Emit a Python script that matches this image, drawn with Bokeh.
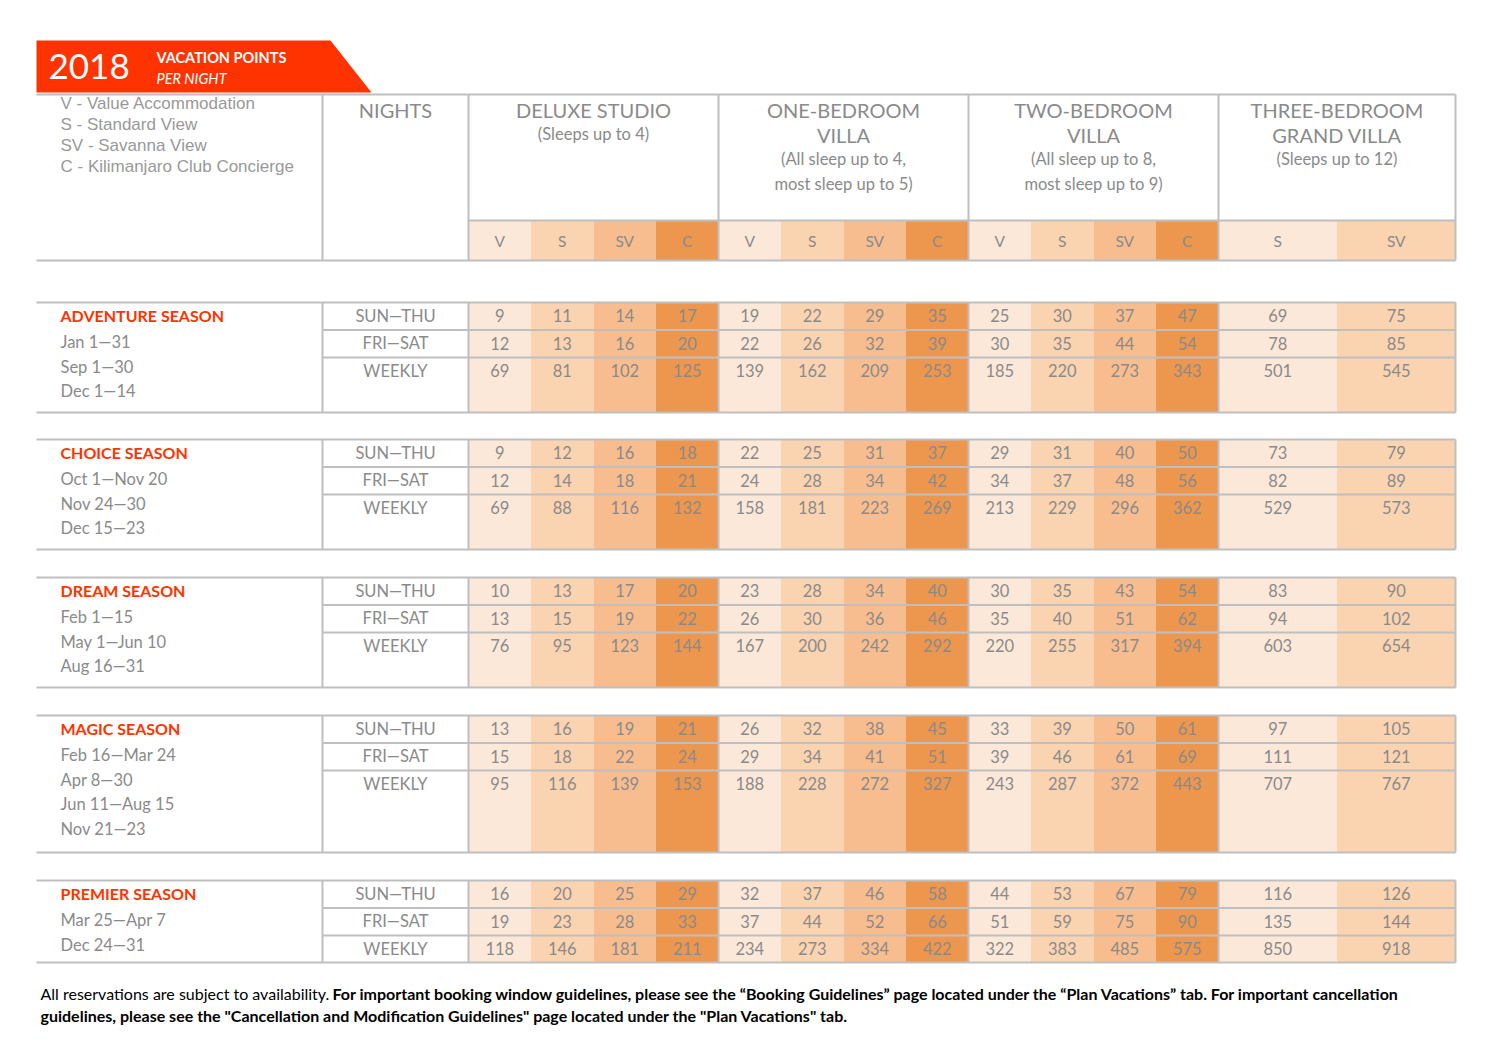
from bokeh.plotting import figure
from bokeh.models import Range1d
from bokeh.embed import file_html
from bokeh.resources import INLINE
from bokeh.core.properties import value

# ---------------- data ----------------
YEAR = "2018"
TITLE = "VACATION POINTS"
SUBTITLE = "PER NIGHT"
legend_lines = ["V - Value Accommodation", "S - Standard View",
                "SV - Savanna View", "C - Kilimanjaro Club Concierge"]
nights_header = "NIGHTS"
room_titles = [["DELUXE STUDIO"], ["ONE-BEDROOM", "VILLA"],
               ["TWO-BEDROOM", "VILLA"], ["THREE-BEDROOM", "GRAND VILLA"]]
room_notes = [["(Sleeps up to 4)"], ["(All sleep up to 4,", "most sleep up to 5)"],
              ["(All sleep up to 8,", "most sleep up to 9)"], ["(Sleeps up to 12)"]]
room_views = [["V", "S", "SV", "C"], ["V", "S", "SV", "C"],
              ["V", "S", "SV", "C"], ["S", "SV"]]
night_types = ["SUN\u2014THU", "FRI\u2014SAT", "WEEKLY"]

seasons = ["ADVENTURE SEASON", "CHOICE SEASON", "DREAM SEASON",
           "MAGIC SEASON", "PREMIER SEASON"]
season_dates = [
    ["Jan 1\u201431", "Sep 1\u201430", "Dec 1\u201414"],
    ["Oct 1\u2014Nov 20", "Nov 24\u201430", "Dec 15\u201423"],
    ["Feb 1\u201415", "May 1\u2014Jun 10", "Aug 16\u201431"],
    ["Feb 16\u2014Mar 24", "Apr 8\u201430", "Jun 11\u2014Aug 15", "Nov 21\u201423"],
    ["Mar 25\u2014Apr 7", "Dec 24\u201431"],
]

adventure_points = [
    [9, 11, 14, 17, 19, 22, 29, 35, 25, 30, 37, 47, 69, 75],
    [12, 13, 16, 20, 22, 26, 32, 39, 30, 35, 44, 54, 78, 85],
    [69, 81, 102, 125, 139, 162, 209, 253, 185, 220, 273, 343, 501, 545],
]
choice_points = [
    [9, 12, 16, 18, 22, 25, 31, 37, 29, 31, 40, 50, 73, 79],
    [12, 14, 18, 21, 24, 28, 34, 42, 34, 37, 48, 56, 82, 89],
    [69, 88, 116, 132, 158, 181, 223, 269, 213, 229, 296, 362, 529, 573],
]
dream_points = [
    [10, 13, 17, 20, 23, 28, 34, 40, 30, 35, 43, 54, 83, 90],
    [13, 15, 19, 22, 26, 30, 36, 46, 35, 40, 51, 62, 94, 102],
    [76, 95, 123, 144, 167, 200, 242, 292, 220, 255, 317, 394, 603, 654],
]
magic_points = [
    [13, 16, 19, 21, 26, 32, 38, 45, 33, 39, 50, 61, 97, 105],
    [15, 18, 22, 24, 29, 34, 41, 51, 39, 46, 61, 69, 111, 121],
    [95, 116, 139, 153, 188, 228, 272, 327, 243, 287, 372, 443, 707, 767],
]
premier_points = [
    [16, 20, 25, 29, 32, 37, 46, 58, 44, 53, 67, 79, 116, 126],
    [19, 23, 28, 33, 37, 44, 52, 66, 51, 59, 75, 90, 135, 144],
    [118, 146, 181, 211, 234, 273, 334, 422, 322, 383, 485, 575, 850, 918],
]
season_points = [adventure_points, choice_points, dream_points,
                 magic_points, premier_points]

footer_normal = "All reservations are subject to availability. "
footer_bold_1 = ("For important booking window guidelines, please see the \u201cBooking Guidelines\u201d "
                 "page located under the \u201cPlan Vacations\u201d tab. For important cancellation")
footer_bold_2 = ("guidelines, please see the \"Cancellation and Modification Guidelines\" "
                 "page located under the \"Plan Vacations\" tab.")

# ---------------- styles / layout ----------------
FONT = "Lato"
GRAY = "#8A8A8A"
LINE = "#BFBFBF"
RED = "#FF3300"
SHADE_V, SHADE_S, SHADE_SV, SHADE_C = "#FCE8D9", "#FAD3B1", "#F7BD8F", "#ED964E"
room_shades = [[SHADE_V, SHADE_S, SHADE_SV, SHADE_C]] * 3 + [[SHADE_V, SHADE_S]]

X_LEFT, X_NIGHTS, X_RIGHT = 36, 322, 1455
group_edges = [468, 718, 968, 1218, 1455]
HDR_TOP, SUB_TOP, HDR_BOT = 94, 220, 260
season_tops = [302, 439, 577, 715, 880]
weekly_heights = [55, 55, 55, 82, 27]
ROW_H = 27.5

W, H = 1484, 1047
p = figure(width=W, height=H, x_range=Range1d(0, W), y_range=Range1d(H, 0),
           output_backend="svg", toolbar_location=None, min_border=0)
p.axis.visible = False
p.grid.visible = False
p.outline_line_color = None
p.background_fill_color = "white"


def txt(x, y, s, size, color=GRAY, align="center", style="normal", font=FONT, baseline="middle"):
    p.text(x=[x], y=[y - 1], text=[s], text_font=value(font), text_font_size=value(size),
           text_color=color, text_align=align, text_baseline=baseline, text_font_style=style)


# sub-column geometry
sub_cols = []  # (left, right, shade, room_idx, view)
for r, views in enumerate(room_views):
    l, rr = group_edges[r], group_edges[r + 1]
    w = (rr - l) / len(views)
    for k, v in enumerate(views):
        sub_cols.append((l + k * w, l + (k + 1) * w, room_shades[r][k], r, v))

# ---------------- banner ----------------
p.patch([36, 330, 371, 36], [40, 40, 92, 92], fill_color=RED, line_color=None)
txt(48, 67, YEAR, "35px", color="white", align="left", font=FONT)
txt(156, 58, TITLE, "14.5px", color="white", align="left", style="bold")
txt(156, 79, SUBTITLE, "14.5px", color="white", align="left", style="italic")

# ---------------- header ----------------
for i, s in enumerate(legend_lines):
    txt(60, 104 + i * 21, s, "17px", color="#999999", align="left", font="Liberation Sans")
txt((X_NIGHTS + group_edges[0]) / 2, 110, nights_header, "20px")
for r in range(4):
    cx = (group_edges[r] + group_edges[r + 1]) / 2
    y = 110
    for t in room_titles[r]:
        txt(cx, y, t, "20px")
        y += 25
    y -= 1
    for t in room_notes[r]:
        txt(cx, y, t, "16.5px")
        y += 25

# sub-header colored cells
p.quad(left=[c[0] for c in sub_cols], right=[c[1] for c in sub_cols],
       top=[SUB_TOP] * len(sub_cols), bottom=[HDR_BOT] * len(sub_cols),
       fill_color=[c[2] for c in sub_cols], line_color=None)
for c in sub_cols:
    txt((c[0] + c[1]) / 2, 241, c[4], "15.5px")

# header lines
hx0, hx1, hy0, hy1 = [], [], [], []
for y, xa in [(HDR_TOP, X_LEFT), (SUB_TOP, group_edges[0]), (HDR_BOT, X_LEFT)]:
    hx0.append(xa); hx1.append(X_RIGHT); hy0.append(y); hy1.append(y)
for x in [X_NIGHTS] + group_edges:
    hx0.append(x); hx1.append(x); hy0.append(HDR_TOP); hy1.append(HDR_BOT)

# ---------------- season blocks ----------------
for si, name in enumerate(seasons):
    top = season_tops[si]
    heights = [ROW_H, ROW_H, weekly_heights[si]]
    row_tops = [top, top + heights[0], top + heights[0] + heights[1]]
    bottom = row_tops[2] + heights[2]
    # cells
    p.quad(left=[c[0] for c in sub_cols], right=[c[1] for c in sub_cols],
           top=[top] * len(sub_cols), bottom=[bottom] * len(sub_cols),
           fill_color=[c[2] for c in sub_cols], line_color=None)
    # values
    for ri, row in enumerate(season_points[si]):
        ys = row_tops[ri] + 13
        p.text(x=[(c[0] + c[1]) / 2 for c in sub_cols], y=[ys] * len(row),
               text=[str(v) for v in row], text_font=value(FONT),
               text_font_size=value("16.5px"), text_color=GRAY,
               text_align="center", text_baseline="middle")
        txt((X_NIGHTS + group_edges[0]) / 2, ys + 1, night_types[ri], "16.5px")
    # season label
    txt(60, top + 14, name, "16px", color=RED, align="left", style="bold")
    for di, d in enumerate(season_dates[si]):
        txt(60, top + 40.5 + di * 24.5, d, "16.5px", align="left")
    # lines
    for y in [top, bottom]:
        hx0.append(X_LEFT); hx1.append(X_RIGHT); hy0.append(y); hy1.append(y)
    for y in row_tops[1:]:
        hx0.append(X_NIGHTS); hx1.append(X_RIGHT); hy0.append(y); hy1.append(y)
    for x in [X_NIGHTS] + group_edges:
        hx0.append(x); hx1.append(x); hy0.append(top); hy1.append(bottom)

p.segment(x0=hx0, y0=hy0, x1=hx1, y1=hy1, line_color=LINE, line_width=2)

# ---------------- footer ----------------
txt(40, 994, footer_normal, "16px", color="black", align="left")
txt(332, 994, footer_bold_1, "16px", color="black", align="left", style="bold")
txt(40, 1016, footer_bold_2, "16px", color="black", align="left", style="bold")

open("out.html", "w").write(file_html(p, INLINE))
